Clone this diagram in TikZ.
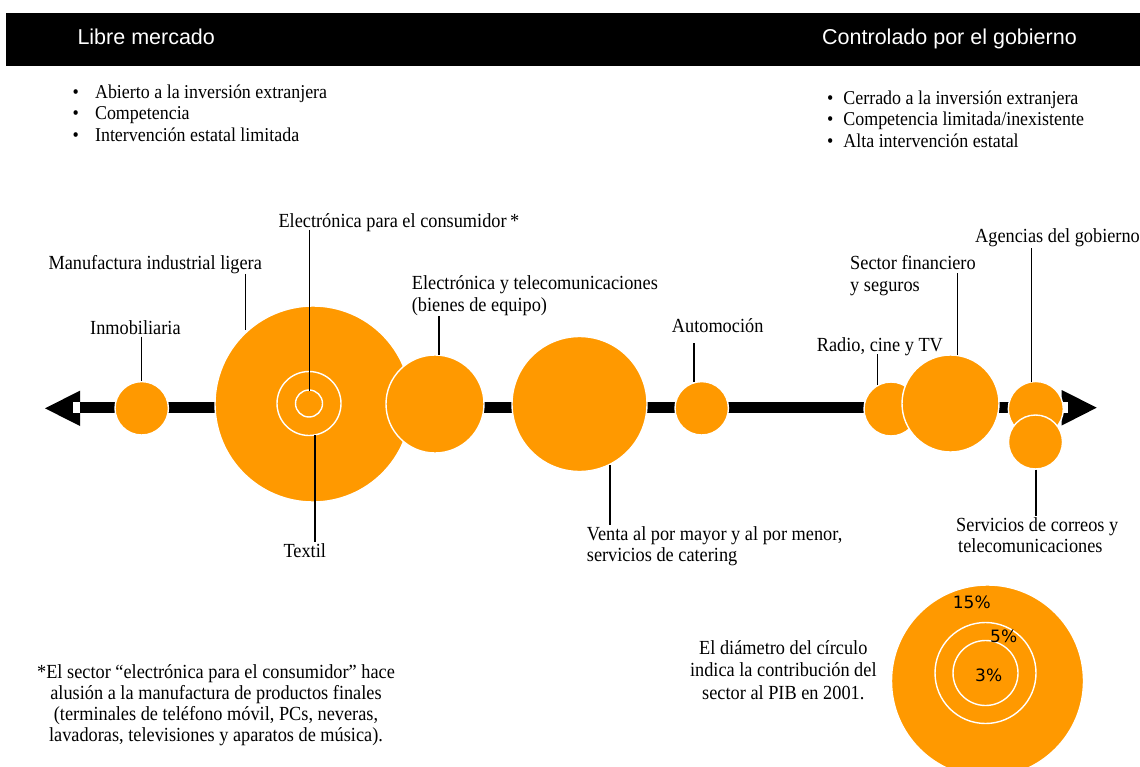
\documentclass[tikz,border=0pt]{standalone}
\usepackage{fontspec}
\setmainfont{Liberation Serif}[FakeStretch=0.915]
\newfontfamily\hdrfont{Liberation Sans}
\newfontfamily\pctfont{DejaVu Sans}
\definecolor{sectororange}{RGB}{255,153,0}

% two-line label, left aligned, baseline at the first line
\newcommand{\twoline}[2]{\begin{tabular}[t]{@{}l@{}}#1\\#2\end{tabular}}

\tikzset{
  sector/.style={circle, fill=sectororange, draw=white, line width=1.4pt, inner sep=0pt},
  ring/.style={circle, draw=white, line width=1.4pt, inner sep=0pt},
  lbl/.style={inner sep=0pt, anchor=base west, font=\fontsize{20}{21}\selectfont},
  listtxt/.style={inner sep=0pt, anchor=base west, font=\fontsize{19.6}{21.3}\selectfont},
  hdr/.style={inner sep=0pt, anchor=base west, text=white, font=\hdrfont\fontsize{21.5}{24}\selectfont},
  pct/.style={inner sep=0pt, anchor=base west, font=\pctfont\fontsize{17}{19}\selectfont},
  leader/.style={line width=1.3pt, draw=black},
}

\begin{document}
\begin{tikzpicture}[x=1pt,y=-1pt]
\useasboundingbox (0,0) rectangle (1140,767);

% header band
\fill[black] (6,13.3) rectangle (1140,66.5);
\node[hdr] (hLeft) at (77.3,45) {Libre mercado};
\node[hdr] (hRight) at (822,44.5) {Controlado por el gobierno};

% characteristic lists
\node[listtxt] (listLeft) at (72.3,98.5)
  {\begin{tabular}[t]{@{}l@{\hspace{16.3pt}}l@{}}
   • & Abierto a la inversión extranjera\\
   • & Competencia\\
   • & Intervención estatal limitada
   \end{tabular}};
\node[listtxt] (listRight) at (826.8,104.5)
  {\begin{tabular}[t]{@{}l@{\hspace{10.1pt}}l@{}}
   • & Cerrado a la inversión extranjera\\
   • & Competencia limitada/inexistente\\
   • & Alta intervención estatal
   \end{tabular}};

% axis: shaft and two arrowheads
\fill[black] (80,401.7) rectangle (1062,413.3);
\fill[black] (45,408.3) -- (80,390.7) -- (80,426) -- cycle;
\fill[black] (1096.7,407.7) -- (1061.7,390) -- (1061.7,425.5) -- cycle;
\fill[white] (73.3,401.7) rectangle (80,413.3);
\fill[white] (1063.3,401.7) rectangle (1068.3,413.3);

% sector circles (diameter = share of GDP)
\node[sector, minimum size=53.4pt] (cInm) at (141.7,408.3) {};
\node[sector, minimum size=196pt] (cManuf) at (313,404) {};
\node[ring, minimum size=64pt] (rTextil) at (309,403.5) {};
\node[ring, minimum size=27pt] (rConsum) at (309,403.5) {};
\node[sector, minimum size=98pt] (cElec) at (435,404) {};
\node[sector, minimum size=135pt] (cVenta) at (579.5,404) {};
\node[sector, minimum size=53.4pt] (cAuto) at (701.7,408.3) {};
\node[sector, minimum size=54pt] (cRadio) at (891,409) {};
\node[sector, minimum size=97pt] (cFin) at (950.5,403.5) {};
\node[sector, minimum size=55pt] (cAgen) at (1035.8,409) {};
\node[sector, minimum size=54pt] (cCorreo) at (1035.5,442) {};

% sector labels
\node[lbl] (lInm) at (90,334) {Inmobiliaria};
\node[lbl] (lManuf) at (48.3,270) {Manufactura industrial ligera};
\node[lbl] (lConsum) at (278.3,227.3) {Electrónica para el consumidor\,*};
\node[lbl] (lTextil) at (283.3,557.7) {Textil};
\node[lbl] (lElec) at (411.7,290) {\twoline{Electrónica y telecomunicaciones}{(bienes de equipo)}};
\node[lbl] (lVenta) at (586.7,540) {\twoline{Venta al por mayor y al por menor,}{servicios de catering}};
\node[lbl] (lAuto) at (671.7,332.7) {Automoción};
\node[lbl] (lRadio) at (816.7,351.7) {Radio, cine y TV};
\node[lbl] (lFin) at (850,270) {\twoline{Sector financiero}{y seguros}};
\node[lbl] (lAgen) at (975,242.7) {Agencias del gobierno};
\node[lbl] (lCorreo) at (956,531.7) {\twoline{Servicios de correos y}{\hspace{2pt}telecomunicaciones}};

% leader lines
\coordinate (aInm) at (141.7,336.7);   \coordinate (bInm) at (141.7,381);
\coordinate (aManuf) at (245.7,274);   \coordinate (bManuf) at (245.7,330);
\coordinate (aConsum) at (309.3,230);  \coordinate (bConsum) at (309.3,390.5);
\coordinate (aTextil) at (315,435);    \coordinate (bTextil) at (315,541.7);
\coordinate (aElec) at (439,316);      \coordinate (bElec) at (439,354.5);
\coordinate (aVenta) at (610,465);     \coordinate (bVenta) at (610,525);
\coordinate (aAuto) at (694,343.3);    \coordinate (bAuto) at (694,381.5);
\coordinate (aRadio) at (877.7,354);   \coordinate (bRadio) at (877.7,385);
\coordinate (aFin) at (957.7,273.3);   \coordinate (bFin) at (957.7,355);
\coordinate (aAgen) at (1031.7,248.3); \coordinate (bAgen) at (1031.7,381.5);
\coordinate (aCorreo) at (1036,469.5); \coordinate (bCorreo) at (1036,516);
\foreach \s in {Inm,Manuf,Consum,Textil,Elec,Venta,Auto,Radio,Fin,Agen,Correo}
  \draw[leader] (a\s) -- (b\s);

% footnote
\node[inner sep=0pt, anchor=base, font=\fontsize{20}{21}\selectfont] (note) at (216,678.3)
  {\begin{tabular}[t]{@{}c@{}}
   *El sector “electrónica para el consumidor” hace\\
   alusión a la manufactura de productos finales\\
   (terminales de teléfono móvil, PCs, neveras,\\
   lavadoras, televisiones y aparatos de música).
   \end{tabular}};

% size legend
\node[inner sep=0pt, anchor=base, font=\fontsize{20}{22.5}\selectfont] (legendText) at (783.3,654)
  {\begin{tabular}[t]{@{}c@{}}
   El diámetro del círculo\\
   indica la contribución del\\
   sector al PIB en 2001.
   \end{tabular}};
\node[sector, minimum size=192pt] (leg15) at (987.5,681) {};
\node[ring, minimum size=101pt] (leg5) at (985.5,673) {};
\node[ring, minimum size=65pt] (leg3) at (985.5,673) {};
\node[pct] (p15) at (952.7,608.8) {15\%};
\node[pct] (p5) at (990,642.8) {5\%};
\node[pct] (p3) at (975,681) {3\%};
\end{tikzpicture}
\end{document}
